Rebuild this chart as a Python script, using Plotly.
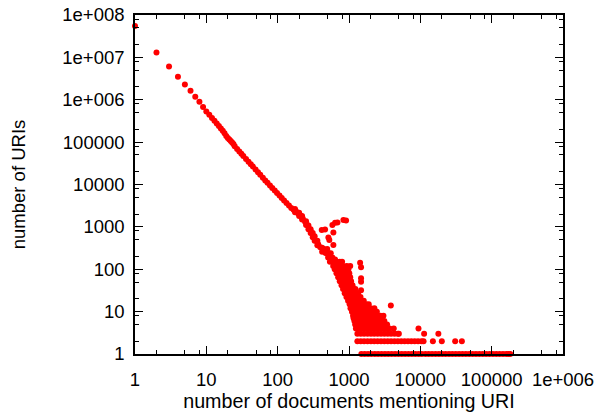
import plotly.graph_objects as go

# ---- data ----
line_x = [1, 2, 3, 4, 5, 6, 7, 8, 9, 10, 11, 12, 13, 14, 15, 16, 17, 18, 19, 20,
          21, 22, 23, 24, 25, 27, 29, 31, 33, 36, 39, 42, 45, 49, 53, 57, 62, 67,
          72, 78, 84, 91, 98, 106, 114, 123, 133, 144, 155, 167, 180, 194, 209,
          225, 242, 260, 280, 300, 320, 345, 370, 395]
line_y = [5.5e7, 1.31e7, 6.1e6, 3.5e6, 2.3e6, 1.62e6, 1.18e6, 9.0e5, 6.7e5, 5.3e5,
          4.4e5, 3.7e5, 3.2e5, 2.75e5, 2.4e5, 2.1e5, 1.85e5, 1.62e5, 1.4e5, 1.25e5,
          1.15e5, 1.06e5, 9.8e4, 9.0e4, 8.0e4, 6.9e4, 6.0e4, 5.3e4, 4.7e4, 4.0e4,
          3.45e4, 3.0e4, 2.65e4, 2.25e4, 1.95e4, 1.7e4, 1.45e4, 1.25e4, 1.1e4, 9.5e3,
          8.3e3, 7.2e3, 6.3e3, 5.5e3, 4.8e3, 4.2e3, 3.65e3, 3.2e3, 2.8e3, 2.55e3,
          2.38e3, 2.08e3, 1.85e3, 1.58e3, 1.32e3, 1.1e3, 880, 720, 590, 470, 390, 330]

# scatter around the main line where it widens
spread_x = [175, 175, 200, 200, 220, 220, 250, 250, 270, 270, 290, 290, 310, 310,
            330, 330, 360, 360, 420, 420]
spread_y = [2.65e3, 2.2e3, 2.15e3, 1.8e3, 1.8e3, 1.5e3, 1.35e3, 1.1e3, 1.08e3, 880,
            880, 720, 720, 570, 600, 470, 470, 370, 320, 260]

# dense cloud: count level -> documents
band_levels = {
    300: [445, 495],
    240: [470, 520, 555],
    190: [510, 550, 585],
    150: [540, 600, 670, 740, 800],
    120: [600, 670, 740, 830, 930, 1040],
    100: [630, 700, 780, 870, 980],
    80: [667, 745, 830, 925, 1010],
    65: [705, 785, 875, 975, 1040],
    52: [742, 830, 925, 1000, 1070],
    42: [785, 875, 975, 1050, 1120],
    34: [825, 920, 1025, 1130, 1230],
    27: [870, 970, 1080, 1200, 1340],
    22: [920, 1025, 1140, 1280, 1450],
    18: [970, 1080, 1200, 1340, 1480, 1610],
    15: [1020, 1140, 1270, 1420, 1580, 1750, 1890],
    12: [1050, 1170, 1300, 1450, 1620, 1800, 2010, 2270],
    10: [1100, 1230, 1370, 1530, 1700, 1900, 2120, 2300, 2460],
    8: [1140, 1270, 1420, 1580, 1760, 1960, 2190, 2450, 2760],
    7: [1160, 1300, 1450, 1620, 1800, 2010, 2240, 2500, 2780, 2900],
    6: [1190, 1330, 1480, 1650, 1840, 2050, 2290, 2550, 2840, 3130],
    5: [1220, 1360, 1520, 1690, 1890, 2100, 2350, 2620, 2920, 3250, 3420],
    4: [1250, 1390, 1550, 1730, 1930, 2150, 2400, 2680, 2990, 3330, 3710, 4240],
    3: [1310, 1460, 1630, 1820, 2030, 2260, 2520, 2810, 3130, 3490, 3890, 4340,
        4840, 5000],
    2: [1310, 1460, 1630, 1820, 2030, 2260, 2520, 2810, 3130, 3490, 3890, 4340,
        4840, 5400, 6020, 6710, 7480, 8340, 9300, 10400, 11100],
    1: [1490, 1660, 1850, 2060, 2300, 2560, 2860, 3190, 3550, 3960, 4420, 4930,
        5490, 6120, 6830, 7610, 8490, 9460, 10500, 11800, 13100, 14600, 16300,
        18200, 20300, 22600, 25200, 28100, 31300, 34900, 38900, 43400, 48400,
        54000, 60200, 67100, 74800, 83400, 93000, 104000, 116000, 129000,
        144000, 160000, 172000, 182000],
}

outlier_x = [585, 638, 689, 835, 910, 415, 462, 604, 514, 530, 604, 638, 1432,
             1475, 1475, 1475, 1475, 3860, 3040, 9420, 11300, 17900, 15000, 20000,
             30800, 38200]
outlier_y = [1100, 1250, 1270, 1450, 1420, 840, 870, 740, 565, 490, 372, 171, 142,
             111, 61, 51, 32, 14, 8, 4, 3, 3, 2, 2, 2, 2]

x_tick_vals = [1, 10, 100, 1000, 10000, 100000, 1000000]
x_tick_text = ["1", "10", "100", "1000", "10000", "100000", "1e+006"]
y_tick_vals = [1, 10, 100, 1000, 10000, 100000, 1000000, 10000000, 100000000]
y_tick_text = ["1", "10", "100", "1000", "10000", "100000", "1e+006", "1e+007",
               "1e+008"]
x_minor = [m * 10 ** d for d in range(0, 6) for m in (2, 5, 8)]
y_minor = [m * 10 ** d for d in range(0, 8) for m in (2, 5, 8)]

# ---- assemble ----
all_x = list(line_x) + list(spread_x)
all_y = list(line_y) + list(spread_y)
for lvl, xs in band_levels.items():
    all_x += xs
    all_y += [lvl] * len(xs)
all_x += outlier_x
all_y += outlier_y

RED = "#ff0000"
FONT = "Liberation Sans, Arial, sans-serif"

fig = go.Figure()
fig.add_trace(go.Scatter(
    x=all_x, y=all_y, mode="markers",
    marker=dict(color=RED, size=6, line=dict(width=0)),
    cliponaxis=False, showlegend=False, hoverinfo="skip",
))

axis_common = dict(
    type="log", showgrid=False, zeroline=False, automargin=False,
    showline=True, linecolor="black", linewidth=1.5, mirror="allticks",
    ticks="inside", ticklen=8, tickwidth=1, tickcolor="black",
    tickfont=dict(family=FONT, size=18.5, color="black"),
    layer="above traces",
)

fig.update_layout(
    width=599, height=417, autosize=False,
    margin=dict(l=135, r=36, t=15, b=63, pad=0, autoexpand=False),
    paper_bgcolor="white", plot_bgcolor="white",
    font=dict(family=FONT, size=18, color="black"),
    xaxis=dict(
        **axis_common, range=[0, 6], ticklabelstandoff=8,
        tickmode="array", tickvals=x_tick_vals, ticktext=x_tick_text,
        minor=dict(tickmode="array", tickvals=x_minor, ticks="inside", ticklen=4,
                   tickwidth=1, tickcolor="black", showgrid=False),
        title=dict(text="number of documents mentioning URI",
                   font=dict(family=FONT, size=19.7, color="black"), standoff=4),
    ),
    yaxis=dict(
        **axis_common, range=[0, 8], ticklabelstandoff=5,
        tickmode="array", tickvals=y_tick_vals, ticktext=y_tick_text,
        minor=dict(tickmode="array", tickvals=y_minor, ticks="inside", ticklen=4,
                   tickwidth=1, tickcolor="black", showgrid=False),
        title=dict(text="number of URIs",
                   font=dict(family=FONT, size=18.5, color="black"), standoff=32),
    ),
)

fig.write_html("out.html", config=dict(responsive=False, displayModeBar=False))
